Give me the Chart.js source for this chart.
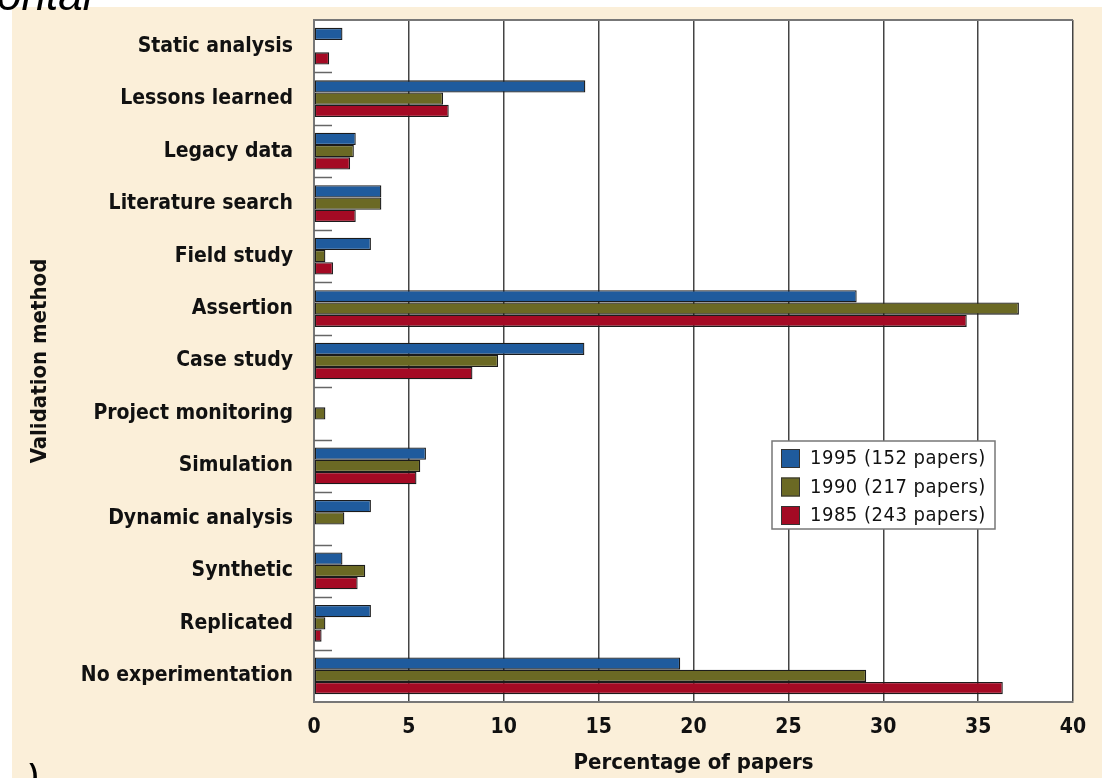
<!DOCTYPE html>
<html>
<head>
<meta charset="utf-8">
<script src="https://cdn.jsdelivr.net/npm/chart.js@4.4.1/dist/chart.umd.min.js"></script>
<style>
  html, body { margin: 0; padding: 0; background: #ffffff; width: 1102px; height: 778px; overflow: hidden; position: relative; }
  #panel { position: absolute; left: 12px; top: 7px; width: 1090px; height: 771px; background: #fbefd9; }
  #wrap { position: absolute; left: 0; top: 0; width: 1102px; height: 778px; }
  #heading { position: absolute; left: -3px; top: -27px; font: italic 44px 'Liberation Sans', Arial, sans-serif; line-height: 44px; color: #000; z-index: 3; white-space: nowrap; }
  #caption { position: absolute; left: 26px; top: 759px; font: italic 40px 'Liberation Sans', Arial, sans-serif; line-height: 40px; color: #000; z-index: 3; }
</style>
</head>
<body>
<div id="panel"></div>
<div id="heading">ontal</div>
<div id="caption">)</div>
<div id="wrap"><canvas id="c" width="1102" height="778"></canvas></div>
<script>
const categories = ['Static analysis','Lessons learned','Legacy data','Literature search','Field study','Assertion','Case study','Project monitoring','Simulation','Dynamic analysis','Synthetic','Replicated','No experimentation'];
const values1995 = [1.5, 14.3, 2.2, 3.55, 3.0, 28.6, 14.25, 0, 5.9, 3.0, 1.5, 3.0, 19.3];
const values1990 = [0, 6.8, 2.1, 3.55, 0.6, 37.15, 9.7, 0.6, 5.6, 1.6, 2.7, 0.6, 29.1];
const values1985 = [0.8, 7.1, 1.9, 2.2, 1.0, 34.4, 8.35, 0, 5.4, 0, 2.3, 0.4, 36.3];
const seriesLabels = ['1995 (152 papers)', '1990 (217 papers)', '1985 (243 papers)'];
const seriesColors = ['#1f5b9d', '#6b6924', '#a40a24'];
const xTickValues = [0, 5, 10, 15, 20, 25, 30, 35, 40];
const xTitle = 'Percentage of papers';
const yTitle = 'Validation method';

const FONT = "'Liberation Sans Narrow', 'DejaVu Sans Condensed', 'Liberation Sans', sans-serif";
Chart.defaults.font.family = FONT;
Chart.defaults.color = '#111';

const frame = {
  id: 'frame',
  beforeDraw(chart) {
    const {ctx, chartArea: a} = chart;
    ctx.save();
    ctx.fillStyle = '#ffffff';
    ctx.fillRect(a.left, a.top, a.right - a.left, a.bottom - a.top);
    ctx.restore();
  },
  afterDatasetsDraw(chart) {
    const {ctx, chartArea: a} = chart;
    const ys = chart.scales.y;
    ctx.save();
    ctx.strokeStyle = '#666';
    ctx.lineWidth = 1.5;
    for (let i = 1; i < categories.length; i++) {
      const y = Math.round((ys.getPixelForValue(i - 1) + ys.getPixelForValue(i)) / 2) + 0.5;
      ctx.beginPath();
      ctx.moveTo(a.left, y);
      ctx.lineTo(a.left + 18, y);
      ctx.stroke();
    }
    ctx.strokeStyle = '#777';
    ctx.lineWidth = 2;
    ctx.beginPath();
    ctx.moveTo(a.left, a.top);
    ctx.lineTo(a.right, a.top);
    ctx.stroke();
    const lx = a.left + 458, ly = a.top + 421, lw = 223, lh = 88;
    ctx.fillStyle = '#fff';
    ctx.fillRect(lx, ly, lw, lh);
    ctx.strokeStyle = '#777';
    ctx.lineWidth = 1.5;
    ctx.strokeRect(lx, ly, lw, lh);
    ctx.letterSpacing = '0.5px';
    ctx.font = "20px " + FONT;
    ctx.textBaseline = 'middle';
    ctx.textAlign = 'left';
    chart.data.datasets.forEach((ds, i) => {
      const cy = ly + 17 + i * 28.5;
      ctx.fillStyle = ds.backgroundColor;
      ctx.fillRect(lx + 9, cy - 9, 19, 19);
      ctx.strokeStyle = '#333';
      ctx.lineWidth = 1;
      ctx.strokeRect(lx + 9.5, cy - 8.5, 18, 18);
      ctx.fillStyle = '#111';
      ctx.fillText(ds.label, lx + 38, cy + 1);
    });
    ctx.restore();
  }
};

const mk = (i, data) => ({
  label: seriesLabels[i],
  data: data,
  backgroundColor: seriesColors[i],
  borderColor: '#1b1b1b',
  borderWidth: 1.3,
  borderSkipped: false,
  categoryPercentage: 0.70,
  barPercentage: 1.0
});

new Chart(document.getElementById('c'), {
  type: 'bar',
  data: {
    labels: categories,
    datasets: [mk(0, values1995), mk(1, values1990), mk(2, values1985)]
  },
  options: {
    indexAxis: 'y',
    responsive: false,
    animation: false,
    events: [],
    layout: { padding: { top: 20, right: 29, bottom: 0, left: 0 } },
    plugins: { legend: { display: false }, tooltip: { enabled: false } },
    scales: {
      x: {
        type: 'linear',
        min: 0, max: 40,
        afterBuildTicks(scale) { scale.ticks = xTickValues.map(v => ({ value: v })); },
        afterFit(scale) { scale.height = 76; scale.paddingLeft = 0; scale.paddingRight = 0; },
        grid: { color: '#444', lineWidth: 1.5, drawTicks: false },
        border: { display: true, color: '#777', width: 2 },
        ticks: { font: { size: 21, weight: 'bold' }, color: '#111', padding: 13, maxRotation: 0 },
        title: { display: true, text: xTitle, font: { size: 22, weight: 'bold' }, color: '#111', padding: { top: 0, bottom: 2 } }
      },
      y: {
        type: 'category',
        afterFit(scale) { scale.width = 314; scale.paddingTop = 0; scale.paddingBottom = 0; },
        grid: { display: false, drawTicks: false },
        border: { display: true, color: '#777', width: 2 },
        ticks: { font: { size: 21, weight: 'bold' }, color: '#111', padding: 21 },
        title: { display: true, text: yTitle, font: { size: 22, weight: 'bold' }, color: '#111', padding: { top: 27, bottom: 0 } }
      }
    }
  },
  plugins: [frame]
});
</script>
</body>
</html>
